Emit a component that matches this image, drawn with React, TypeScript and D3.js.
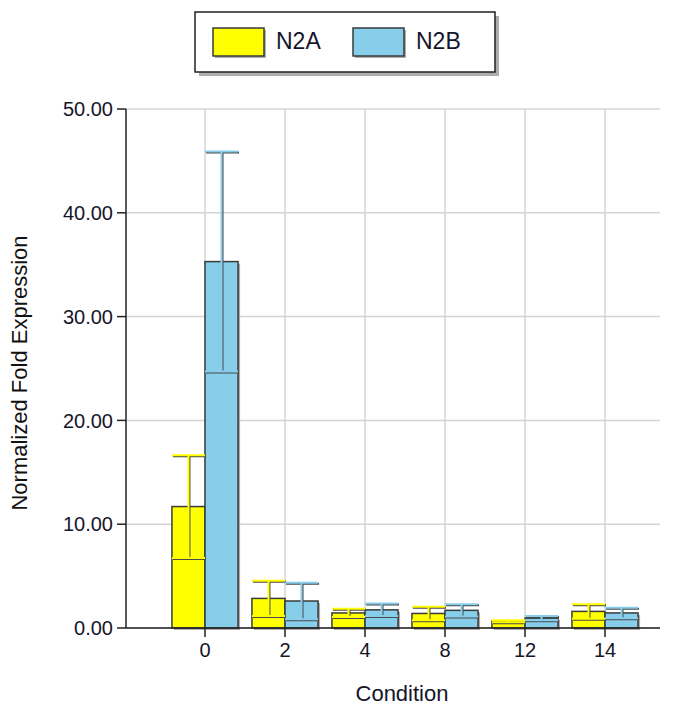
import React, { useEffect, useRef } from 'react';
import * as d3 from 'd3';

// Values
const categories = ['0', '2', '4', '8', '12', '14'];
const seriesNames = ['N2A', 'N2B'];
const seriesColors = ['#ffff00', '#87ceeb'];
const n2aValues = [11.7, 2.85, 1.45, 1.4, 0.65, 1.6];
const n2aErrors = [4.95, 1.7, 0.4, 0.65, 0.1, 0.7];
const n2bValues = [35.3, 2.6, 1.75, 1.7, 0.95, 1.45];
const n2bErrors = [10.6, 1.75, 0.6, 0.6, 0.2, 0.5];
const yTicks = [0, 10, 20, 30, 40, 50];

interface BarDatum {
    category: string;
    series: string;
    color: string;
    value: number;
    error: number;
}

const WIDTH = 674;
const HEIGHT = 708;
const FONT = "'Liberation Sans', Arial, sans-serif";
const TEXT = '#15152a';
const BORDER = '#3a3a3a';
const SHADOW = '#8a8a8a';

const drawChart = (container: SVGSVGElement) => {
    const svg = d3.select(container);
    svg.selectAll('*').remove();

    const plot = { left: 126, right: 660, top: 109, bottom: 628 };

    const rows: BarDatum[] = [];
    categories.forEach((c, i) => {
        rows.push({ category: c, series: 'N2A', color: seriesColors[0], value: n2aValues[i], error: n2aErrors[i] });
        rows.push({ category: c, series: 'N2B', color: seriesColors[1], value: n2bValues[i], error: n2bErrors[i] });
    });

    // --- Scales ---
    const yScale = d3.scaleLinear().domain([0, 50]).range([plot.bottom, plot.top]);
    const xScale = d3.scaleBand<string>()
        .domain(categories)
        .range([plot.left + 39, plot.left + 519])
        .padding(0);
    const xInner = d3.scaleBand<string>()
        .domain(seriesNames)
        .range([0, xScale.bandwidth()])
        .paddingInner(0)
        .paddingOuter(0.21);
    const center = (c: string) => (xScale(c) ?? 0) + xScale.bandwidth() / 2;

    // --- Grid ---
    const grid = svg.append('g');
    yTicks.forEach(t => {
        grid.append('line')
            .attr('x1', plot.left).attr('x2', plot.right)
            .attr('y1', yScale(t)).attr('y2', yScale(t))
            .attr('stroke', '#d4d4d4').attr('stroke-width', 1.5);
    });
    categories.forEach(c => {
        grid.append('line')
            .attr('x1', center(c)).attr('x2', center(c))
            .attr('y1', plot.top).attr('y2', plot.bottom)
            .attr('stroke', '#d4d4d4').attr('stroke-width', 1.5);
    });

    // --- Bars ---
    const bars = svg.append('g');
    const bx = (d: BarDatum) => (xScale(d.category) ?? 0) + (xInner(d.series) ?? 0);
    bars.selectAll('.bar-shadow')
        .data(rows)
        .enter()
        .append('rect')
        .attr('x', d => bx(d) + 2)
        .attr('y', d => yScale(d.value) + 2)
        .attr('width', xInner.bandwidth())
        .attr('height', d => plot.bottom - yScale(d.value))
        .attr('fill', SHADOW)
        .attr('opacity', 0.7);
    bars.selectAll('.bar')
        .data(rows)
        .enter()
        .append('rect')
        .attr('x', d => bx(d))
        .attr('y', d => yScale(d.value))
        .attr('width', xInner.bandwidth())
        .attr('height', d => plot.bottom - yScale(d.value))
        .attr('fill', d => d.color)
        .attr('stroke', BORDER)
        .attr('stroke-width', 1.5);

    // --- Error bars (series colour with a dark drop shadow) ---
    const err = svg.append('g');
    const drawErr = (d: BarDatum, dx: number, stroke: string) => {
        const x0 = bx(d);
        const xm = x0 + xInner.bandwidth() / 2;
        const hi = yScale(d.value + d.error);
        const lo = yScale(Math.max(0, d.value - d.error));
        err.append('line')
            .attr('x1', xm + dx).attr('x2', xm + dx)
            .attr('y1', hi + dx).attr('y2', lo + dx)
            .attr('stroke', stroke).attr('stroke-width', 2);
        [hi, lo].forEach(y => {
            err.append('line')
                .attr('x1', x0 + dx).attr('x2', x0 + xInner.bandwidth() + dx)
                .attr('y1', y + dx).attr('y2', y + dx)
                .attr('stroke', stroke).attr('stroke-width', 2);
        });
    };
    rows.forEach(d => drawErr(d, 1, '#4a4a4a'));
    rows.forEach(d => drawErr(d, 0, d.color));

    // --- Axes ---
    const axes = svg.append('g');
    axes.append('line')
        .attr('x1', plot.left).attr('x2', plot.left)
        .attr('y1', plot.top).attr('y2', plot.bottom)
        .attr('stroke', '#222').attr('stroke-width', 1.5);
    axes.append('line')
        .attr('x1', plot.left).attr('x2', plot.right)
        .attr('y1', plot.bottom).attr('y2', plot.bottom)
        .attr('stroke', '#222').attr('stroke-width', 1.5);

    yTicks.forEach(t => {
        axes.append('line')
            .attr('x1', plot.left - 9).attr('x2', plot.left)
            .attr('y1', yScale(t)).attr('y2', yScale(t))
            .attr('stroke', '#222').attr('stroke-width', 1.5);
        axes.append('text')
            .attr('x', plot.left - 13)
            .attr('y', yScale(t))
            .attr('dy', '0.36em')
            .attr('text-anchor', 'end')
            .style('font-family', FONT)
            .style('font-size', '20px')
            .style('fill', TEXT)
            .text(t.toFixed(2));
    });

    categories.forEach(c => {
        axes.append('line')
            .attr('x1', center(c)).attr('x2', center(c))
            .attr('y1', plot.bottom).attr('y2', plot.bottom + 9)
            .attr('stroke', '#222').attr('stroke-width', 1.5);
        axes.append('text')
            .attr('x', center(c))
            .attr('y', plot.bottom + 29)
            .attr('text-anchor', 'middle')
            .style('font-family', FONT)
            .style('font-size', '20px')
            .style('fill', TEXT)
            .text(c);
    });

    // --- Axis titles ---
    svg.append('text')
        .attr('x', (plot.left + plot.right) / 2 + 9)
        .attr('y', 701)
        .attr('text-anchor', 'middle')
        .style('font-family', FONT)
        .style('font-size', '22px')
        .style('fill', TEXT)
        .text('Condition');

    svg.append('text')
        .attr('transform', `translate(27, 373) rotate(-90)`)
        .attr('text-anchor', 'middle')
        .style('font-family', FONT)
        .style('font-size', '22px')
        .style('fill', '#111')
        .text('Normalized Fold Expression');

    // --- Legend ---
    const legend = svg.append('g').attr('transform', 'translate(195, 12)');
    legend.append('rect')
        .attr('x', 4).attr('y', 4).attr('width', 300).attr('height', 60)
        .attr('fill', SHADOW).attr('opacity', 0.7);
    legend.append('rect')
        .attr('x', 0).attr('y', 0).attr('width', 300).attr('height', 60)
        .attr('fill', '#fff').attr('stroke', '#222').attr('stroke-width', 1.5);

    const legendX = d3.scaleOrdinal<string, number>().domain(seriesNames).range([18, 158]);
    seriesNames.forEach((name, i) => {
        const lx = legendX(name);
        legend.append('rect')
            .attr('x', lx + 2).attr('y', 18).attr('width', 51).attr('height', 28)
            .attr('fill', SHADOW).attr('opacity', 0.7);
        legend.append('rect')
            .attr('x', lx).attr('y', 16).attr('width', 51).attr('height', 28)
            .attr('fill', seriesColors[i])
            .attr('stroke', BORDER).attr('stroke-width', 1.5);
        legend.append('text')
            .attr('x', lx + 63)
            .attr('y', 37)
            .style('font-family', FONT)
            .style('font-size', '23px')
            .style('fill', TEXT)
            .text(name);
    });
};

const App: React.FC = () => {
    const svgRef = useRef<SVGSVGElement | null>(null);

    useEffect(() => {
        if (svgRef.current) drawChart(svgRef.current);
    }, []);

    return (
        <div style={{ position: 'absolute', left: 0, top: 0 }}>
            <svg ref={svgRef} width={WIDTH} height={HEIGHT} style={{ display: 'block', background: '#fff' }} />
        </div>
    );
};

export default App;
